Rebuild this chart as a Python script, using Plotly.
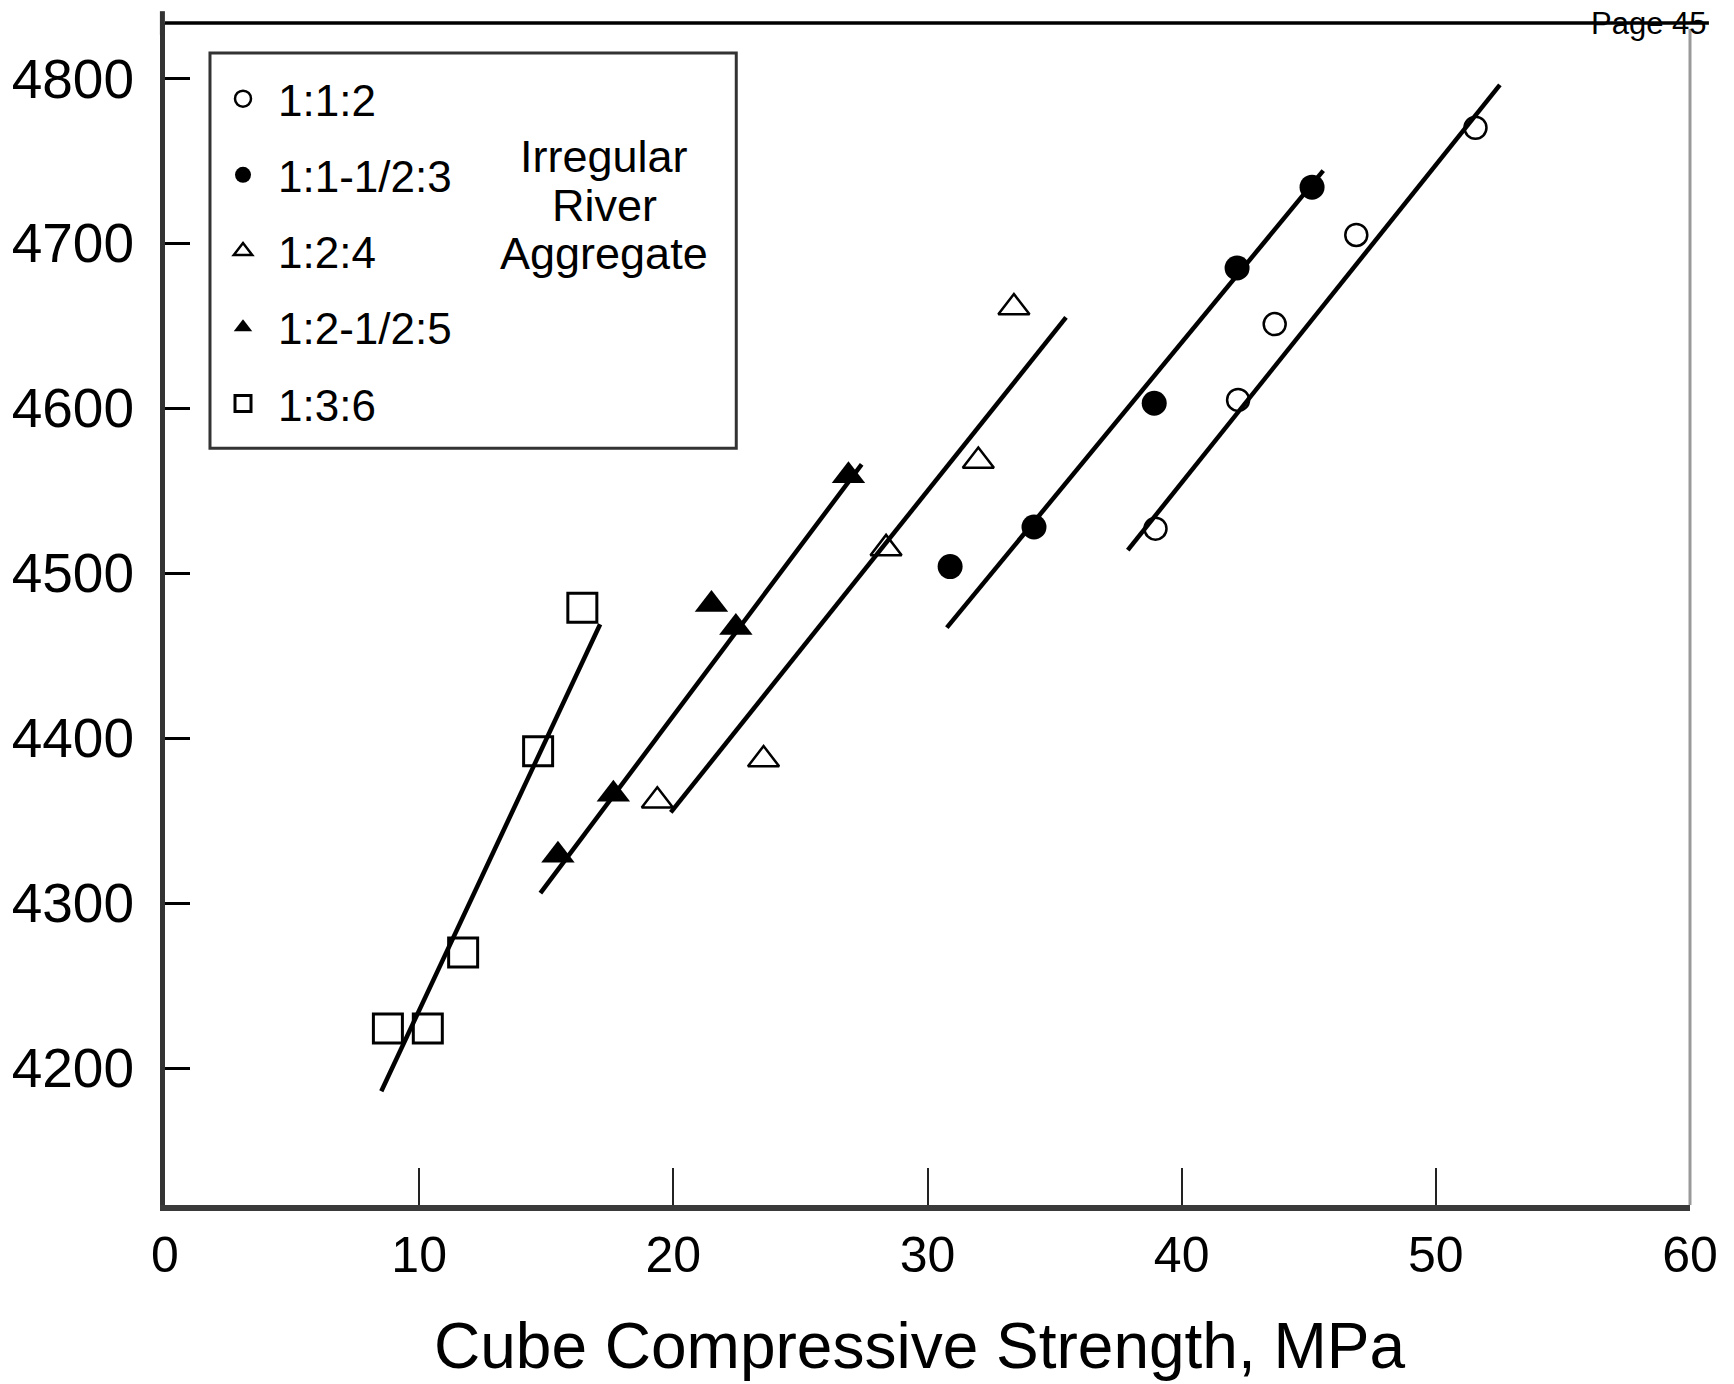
import plotly.graph_objects as go

# ---- data ----
series_names = ["1:1:2", "1:1-1/2:3", "1:2:4", "1:2-1/2:5", "1:3:6"]

x_112 = [51.56, 46.87, 43.66, 42.22, 38.97]
y_112 = [4770, 4705, 4651, 4605, 4527]

x_1153 = [45.13, 42.18, 38.92, 34.19, 30.89]
y_1153 = [4734, 4685, 4603, 4528, 4504]

x_124 = [33.40, 32.00, 28.37, 23.55, 19.37]
y_124 = [4661, 4568, 4515, 4387, 4362]

x_12525 = [26.89, 21.50, 22.46, 17.64, 15.46]
y_12525 = [4559, 4481, 4467, 4366, 4329]

x_136 = [16.42, 14.68, 11.73, 10.34, 8.77]
y_136 = [4479, 4392, 4270, 4224, 4224]

# fitted lines (end points)
fit_x_112 = [37.88, 52.52]
fit_y_112 = [4514, 4796]
fit_x_1153 = [30.76, 45.57]
fit_y_1153 = [4467, 4744]
fit_x_124 = [19.90, 35.45]
fit_y_124 = [4355, 4655]
fit_x_12525 = [14.77, 27.41]
fit_y_12525 = [4306, 4566]
fit_x_136 = [8.51, 17.12]
fit_y_136 = [4186, 4469]

x_ticks = [0, 10, 20, 30, 40, 50, 60]
y_ticks = [4200, 4300, 4400, 4500, 4600, 4700, 4800]

x_title = "Cube Compressive Strength, MPa"
note_lines = ["Irregular", "River", "Aggregate"]
page_label = "Page 45"

FONT = "Liberation Sans, Arial, sans-serif"

fig = go.Figure()

marker_styles = [
    dict(symbol="circle-open", size=22, color="black", line=dict(width=2.5, color="black")),
    dict(symbol="circle", size=25, color="black", line=dict(width=0)),
    dict(symbol="triangle-up-open", size=27, color="black", line=dict(width=2.5, color="black")),
    dict(symbol="triangle-up", size=29, color="black", line=dict(width=0)),
    dict(symbol="square-open", size=29, color="black", line=dict(width=3, color="#222")),
]

pts = [(x_112, y_112), (x_1153, y_1153), (x_124, y_124), (x_12525, y_12525), (x_136, y_136)]
fits = [(fit_x_112, fit_y_112), (fit_x_1153, fit_y_1153), (fit_x_124, fit_y_124),
        (fit_x_12525, fit_y_12525), (fit_x_136, fit_y_136)]

for name, (fx, fy) in zip(series_names, fits):
    fig.add_trace(go.Scatter(x=fx, y=fy, mode="lines", line=dict(color="black", width=4.5),
                             showlegend=False, hoverinfo="skip"))

for name, (px, py), ms in zip(series_names, pts, marker_styles):
    fig.add_trace(go.Scatter(x=px, y=py, mode="markers", name=name, marker=ms,
                             legendgroup=name, showlegend=True))

# frame pieces
shapes = [
    # legend box
    dict(type="rect", xref="paper", yref="paper", x0=0.0295, x1=0.3746, y0=0.6402, y1=0.9747,
         line=dict(color="#333", width=3), fillcolor="rgba(0,0,0,0)", layer="below"),
    # top line extending right
    dict(type="line", xref="paper", yref="paper", x0=0, x1=1.0124, y0=1, y1=1,
         line=dict(color="black", width=3.5)),
    # right axis (grey)
    dict(type="line", xref="paper", yref="paper", x0=1, x1=1, y0=0, y1=0.995,
         line=dict(color="#999", width=3)),
    # left axis extension above top
    dict(type="line", xref="paper", yref="paper", x0=-0.0017, x1=-0.0017, y0=0.99, y1=1.01,
         line=dict(color="#333", width=5)),
]

annotations = [
    dict(text=page_label, xref="paper", yref="paper", x=1.0124, y=1.0, xanchor="right",
         yanchor="middle", showarrow=False, font=dict(family=FONT, size=31, color="black")),
    # x-axis title
    dict(text=x_title, xref="paper", yref="paper", x=0.495, y=-0.1197, xanchor="center",
         yanchor="middle", showarrow=False, font=dict(family=FONT, size=64, color="black")),
]
for t, yy in zip(note_lines, [0.8873, 0.8459, 0.8050]):
    annotations.append(dict(text=t, xref="paper", yref="paper", x=0.288, y=yy, xanchor="center",
                            yanchor="middle", showarrow=False,
                            font=dict(family=FONT, size=45, color="black")))

fig.update_layout(
    width=1718, height=1376,
    margin=dict(l=157, r=36, t=15, b=179, autoexpand=False),
    paper_bgcolor="white", plot_bgcolor="white",
    font=dict(family=FONT, color="black"),
    showlegend=True,
    legend=dict(x=0.0282, y=0.9657, xanchor="left", yanchor="top",
                bgcolor="rgba(0,0,0,0)", borderwidth=0,
                font=dict(family=FONT, size=44, color="black"),
                traceorder="grouped", tracegroupgap=16, itemsizing="trace",
                itemwidth=60),
    shapes=shapes, annotations=annotations,
    xaxis=dict(range=[0, 60], tickvals=x_ticks, ticktext=[str(v) for v in x_ticks],
               ticks="inside", ticklen=37, tickwidth=2, tickcolor="#222",
               showline=True, linewidth=6, linecolor="#3a3a3a", mirror=False,
               showgrid=False, zeroline=False, automargin=False,
               tickfont=dict(family=FONT, size=50, color="black"),
               ticklabelstandoff=1),
    yaxis=dict(range=[4117.0, 4833.5], tickvals=y_ticks, ticktext=[str(v) for v in y_ticks],
               ticks="inside", ticklen=25, tickwidth=3, tickcolor="black",
               showline=True, linewidth=5, linecolor="#333", mirror=False,
               showgrid=False, zeroline=False, automargin=False,
               tickfont=dict(family=FONT, size=55, color="black"),
               ticklabelstandoff=15),
)

fig.write_html("out.html")
